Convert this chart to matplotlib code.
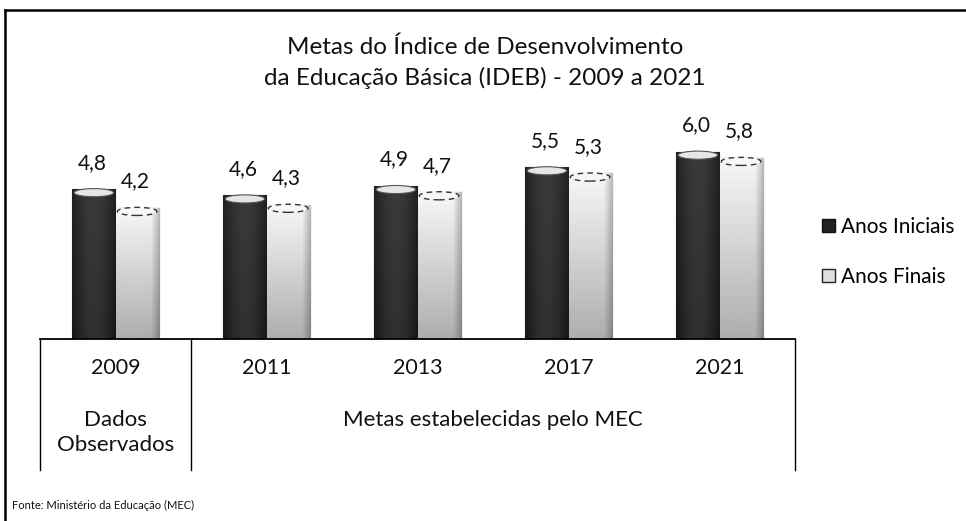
import matplotlib
matplotlib.use("Agg")
import matplotlib.pyplot as plt
import numpy as np
from matplotlib.patches import Ellipse, Patch
from matplotlib.lines import Line2D
import matplotlib.transforms as mtransforms

# ---------------- data ----------------
years = ["2009", "2011", "2013", "2017", "2021"]
anos_iniciais = [4.8, 4.6, 4.9, 5.5, 6.0]
anos_finais = [4.2, 4.3, 4.7, 5.3, 5.8]
series_names = ["Anos Iniciais", "Anos Finais"]
group_labels = ["Dados\nObservados", "Metas estabelecidas pelo MEC"]
group_spans = [(0, 0), (1, 4)]
title_text = "Metas do Índice de Desenvolvimento\nda Educação Básica (IDEB) - 2009 a 2021"
source_text = "Fonte: Ministério da Educação (MEC)"

FONT = "Lato"
plt.rcParams["font.family"] = [FONT, "DejaVu Sans"]

W, H = 966, 521
fig = plt.figure(figsize=(W / 100, H / 100), dpi=100)
fig.patch.set_facecolor("white")

ax_left, ax_right = 40, 795
base_y, ymax = 339, 7.0
px_per_unit = 31.25
ax_h = ymax * px_per_unit
ax = fig.add_axes([ax_left / W, (H - base_y) / H, (ax_right - ax_left) / W, ax_h / H])
ax.set_xlim(-0.5, len(years) - 0.5)
ax.set_ylim(0, ymax)
for s in ["top", "left", "right"]:
    ax.spines[s].set_visible(False)
ax.spines["bottom"].set_color("black")
ax.spines["bottom"].set_linewidth(1.3)
ax.set_xticks([])
ax.set_yticks([])
ax.patch.set_alpha(0)

x = np.arange(len(years))
bw = 0.285
off = 0.143

bars_d = ax.bar(x - off, anos_iniciais, width=bw, color="#222222", edgecolor="#111111", linewidth=0.8, zorder=2)
bars_l = ax.bar(x + off, anos_finais, width=bw, color="#d8d8d8", edgecolor="#222222", linewidth=0.8, zorder=2)

# cylinder-like shading via clipped gradients
u = np.linspace(0, 1, 60)
v = np.linspace(0, 1, 100)[:, None]
dark_grad = 0.09 + 0.10 * np.sin(np.pi * u)[None, :] + 0.04 * v
light_grad = (0.68 + 0.29 * v) * (1 - 0.25 * np.clip((u - 0.8) / 0.2, 0, 1))[None, :]

for bars, grad in [(bars_d, dark_grad), (bars_l, light_grad)]:
    for b in bars:
        x0, w, h = b.get_x(), b.get_width(), b.get_height()
        im = ax.imshow(grad, extent=[x0, x0 + w, 0, h], origin="lower", cmap="gray",
                       vmin=0, vmax=1, aspect="auto", zorder=2.5, interpolation="bilinear")
        im.set_clip_path(b)

ell_h = 0.26
for b in bars_d:
    cx = b.get_x() + b.get_width() / 2
    ax.add_patch(Ellipse((cx, b.get_height() - ell_h * 0.45), b.get_width() * 0.92, ell_h,
                         facecolor="#e6e6e6", edgecolor="#555555", linewidth=0.8, zorder=3))
for b in bars_l:
    cx = b.get_x() + b.get_width() / 2
    ax.add_patch(Ellipse((cx, b.get_height() - ell_h * 0.45), b.get_width() * 0.92, ell_h,
                         facecolor="#f7f7f7", edgecolor="#333333", linewidth=1.0,
                         linestyle=(0, (4, 3)), zorder=3))

ax.set_xlim(-0.5, len(years) - 0.5)
ax.set_ylim(0, ymax)

# value labels
for bars, vals in [(bars_d, anos_iniciais), (bars_l, anos_finais)]:
    for b, v_ in zip(bars, vals):
        ax.annotate(f"{v_:.1f}".replace(".", ","), (b.get_x() + b.get_width() / 2, v_),
                    xytext=(-1, 19), textcoords="offset points", ha="center", va="center",
                    fontsize=15, color="#111111", zorder=5)

# category table below axis
trans = mtransforms.blended_transform_factory(ax.transData, ax.transAxes)
def py(pix):  # pixel y (image coords) -> axes fraction
    return (base_y - pix) / ax_h

table_bottom = 470
for xb in [-0.5, 0.5, len(years) - 0.5]:
    ax.add_line(Line2D([xb, xb], [0, py(table_bottom)], transform=trans, color="black",
                       linewidth=1.0, clip_on=False))
for i, yr in enumerate(years):
    ax.text(i, py(368), yr, transform=trans, ha="center", va="center", fontsize=15.5, color="#111111")
for lab, (a, b_) in zip(group_labels, group_spans):
    ax.text((a + b_) / 2, py(410), lab, transform=trans, ha="center", va="top", fontsize=16,
            color="#111111", linespacing=1.3)

# title
fig.text(485 / W, 1 - 63 / H, title_text, ha="center", va="center", fontsize=17.5,
         color="#111111", linespacing=1.5)

# legend
handles = [Patch(facecolor="#222222", edgecolor="#111111"),
           Patch(facecolor="#e0e0e0", edgecolor="#222222")]
fig.legend(handles, series_names, loc="center left", bbox_to_anchor=(814 / W, 1 - 252 / H),
           frameon=False, fontsize=15, handlelength=0.6, handleheight=0.6,
           handletextpad=0.3, labelspacing=1.45, borderaxespad=0)

# source
fig.text(12 / W, 1 - 505 / H, source_text, ha="left", va="center", fontsize=8, color="#111111")

# outer frame (left and top)
fig.add_artist(Line2D([5 / W, 5 / W], [0, 1 - 10 / H], color="black", linewidth=1.8))
fig.add_artist(Line2D([5 / W, 1], [1 - 10 / H, 1 - 10 / H], color="black", linewidth=1.8))

fig.savefig("out.png", dpi=100)
